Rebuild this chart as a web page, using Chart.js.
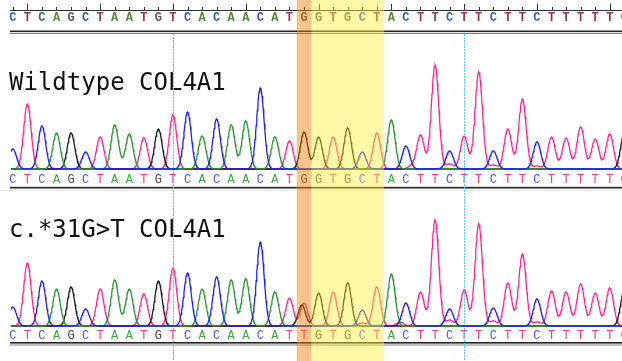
<!DOCTYPE html>
<html><head><meta charset="utf-8">
<script src="https://cdn.jsdelivr.net/npm/chart.js@4/dist/chart.umd.min.js"></script>
<style>html,body{margin:0;padding:0;background:#fff;overflow:hidden}#wrap{width:622px;height:361px;position:relative}canvas{display:block}</style>
</head><body><div id="wrap"><canvas id="c" width="622" height="361"></canvas></div>
<script>
// ---------- DATA ----------
const referenceSeq = "CTCAGCTAATGTCACAACATGGTGCTACTTCTTCTTCTTTTTG".split("");
const wildtypeSeq  = "CTCAGCTAATGTCACAACATGGTGCTACTTCTTCTTCTTTTTG".split("");
const mutantSeq    = "CTCAGCTAATGTCACAACATTGTGCTACTTCTTCTTCTTTTTG".split("");
// primary peak heights (signal units) per called base
const wildtypePeaks = [20,65,43,36,36,17,32,44,35,31,40,54,57,33,50,44,48,81,32,28,37,32,32,41,17,36,49,23,34,104,18,33,97,18,40,70,27,32,31,42,30,35,36];
const mutantPeaks   = [19,63,45,37,39,17,37,46,37,32,45,58,53,37,49,46,47,84,34,28,23,33,34,43,16,39,52,23,34,106,17,36,102,18,43,72,27,35,34,42,33,38,36];
// secondary (minor) peaks: [base index, channel, height, shift]
const wildtypeMinor = [[30,"T",5,0],[33,"T",4,0],[36,"T",3,0],[27,"T",3,0.4]];
const mutantMinor   = [[20,"G",21,-0.15],[30,"T",6,0],[33,"T",5,0],[36,"T",4,0],[26,"T",4,0.6],[24,"T",3,0]];
const trackTitles = ["Wildtype COL4A1", "c.*31G>T COL4A1"];
const mutationBase = 20;
const motifBases = [21, 25];
const markerBases = [11, 31];
const channels = ["C","A","G","T"];

// ---------- STYLE / LAYOUT ----------
const X0 = 12.8, DX = 14.56;           // pixel of base 0, pixels per base
const SIGMA = 0.255;                    // peak width in bases
const tracks = [
  {seq: wildtypeSeq, peaks: wildtypePeaks, minor: wildtypeMinor, base: 169, labelY: 180, title: trackTitles[0], titleY: 90},
  {seq: mutantSeq,   peaks: mutantPeaks,   minor: mutantMinor,   base: 326, labelY: 336, title: trackTitles[1], titleY: 237}
];
const traceColor = {A:"rgb(40,150,50)", C:"rgb(35,35,230)", G:"rgb(25,25,25)", T:"rgb(250,40,140)"};
const labelColor = {A:"rgb(60,170,60)", C:"rgb(80,80,255)", G:"rgb(70,70,70)", T:"rgb(245,50,140)"};
const topColor   = {A:"rgb(90,130,60)", C:"rgb(60,90,170)", G:"rgb(90,90,90)", T:"rgb(150,50,90)"};

function buildTrace(tr, ch) {
  const pts = [];
  const start = (11 - X0) / DX, end = (623 - X0) / DX;
  for (let x = start; x <= end; x += 0.04) {
    let s = 0;
    tr.seq.forEach((b, i) => {
      if (b === ch) s += tr.peaks[i] * Math.exp(-((x - i) ** 2) / (2 * SIGMA * SIGMA));
    });
    tr.minor.forEach(([i, c, h, sh]) => {
      if (c === ch) s += h * Math.exp(-((x - i - sh) ** 2) / (2 * SIGMA * SIGMA));
    });
    pts.push({x: x, y: tr.base - s});
  }
  return pts;
}
const datasets = [];
tracks.forEach(tr => channels.forEach(ch => datasets.push({
  data: buildTrace(tr, ch), borderColor: traceColor[ch], borderWidth: 1.3,
  pointRadius: 0, fill: false, tension: 0
})));

const decor = {
  id: "decor",
  beforeDatasetsDraw(chart) {
    const ctx = chart.ctx, xs = chart.scales.x, ys = chart.scales.y;
    const px = i => xs.getPixelForValue(i);
    const py = v => ys.getPixelForValue(v);
    ctx.save();
    ctx.setLineDash([]); ctx.globalAlpha = 1;
    ctx.font = "bold 12px 'Liberation Mono'"; ctx.textAlign = "center"; ctx.textBaseline = "middle";
    referenceSeq.forEach((b, i) => { ctx.fillStyle = topColor[b]; ctx.fillText(b, px(i), py(17.5)); });
    // double line under ruler
    ctx.fillStyle = "#222"; ctx.fillRect(10, py(30.5), 612, 1.6);
    ctx.fillStyle = "#777"; ctx.fillRect(10, py(33), 612, 1);
    // track labels and rules
    tracks.forEach((tr, k) => {
      ctx.font = "12px 'Liberation Mono'";
      tr.seq.forEach((b, i) => { ctx.fillStyle = labelColor[b]; ctx.fillText(b, px(i), py(tr.labelY)); });
      ctx.font = "24px 'DejaVu Sans Mono'"; ctx.textAlign = "left"; ctx.textBaseline = "alphabetic";
      ctx.fillStyle = "#111"; ctx.fillText(tr.title, 9, py(tr.titleY));
      ctx.textAlign = "center"; ctx.textBaseline = "middle";
    });
    ctx.fillStyle = "#333"; ctx.fillRect(10, py(186.8), 612, 1.8);
    ctx.fillStyle = "#e4e4e4"; ctx.fillRect(0, py(190), 622, 1);
    ctx.fillStyle = "#222"; ctx.fillRect(10, py(342), 612, 1.6);
    ctx.fillStyle = "#888"; ctx.fillRect(10, py(344.5), 612, 1);
    // cursor lines
    ctx.strokeStyle = "rgb(90,200,240)"; ctx.lineWidth = 1; ctx.setLineDash([2, 1]);
    markerBases.forEach(i => {
      const x = Math.round(px(i)) + 0.5;
      ctx.beginPath(); ctx.moveTo(x, py(34)); ctx.lineTo(x, py(361)); ctx.stroke();
    });
    ctx.restore();
  },
  afterDraw(chart) {
    const ctx = chart.ctx, xs = chart.scales.x;
    ctx.save();
    ctx.setLineDash([]); ctx.globalAlpha = 1; ctx.globalCompositeOperation = "source-over";
    // top ruler
    ctx.fillStyle = "#333";
    ctx.fillRect(10, 10, 612, 1);
    referenceSeq.forEach((b, i) => {
      const x = Math.round(xs.getPixelForValue(i));
      const top = i % 5 === 1 ? 4 : 7;
      ctx.fillRect(x, top, 1, 10 - top);
    });
    // highlight bands
    const a = xs.getPixelForValue(mutationBase - 0.5), b = xs.getPixelForValue(mutationBase + 0.5);
    ctx.fillStyle = "rgba(240,125,0,0.45)"; ctx.fillRect(a, 0, b - a, 361);
    const c = xs.getPixelForValue(motifBases[0] - 0.5), d = xs.getPixelForValue(motifBases[1] + 0.5);
    ctx.fillStyle = "rgba(255,240,60,0.45)"; ctx.fillRect(c, 0, d - c, 361);
    ctx.restore();
  }
};

new Chart(document.getElementById("c"), {
  type: "line",
  data: {datasets},
  options: {
    responsive: false, animation: false, parsing: false, normalized: true,
    layout: {padding: 0},
    plugins: {legend: {display: false}, tooltip: {enabled: false}},
    scales: {
      x: {type: "linear", display: false, min: -X0 / DX, max: (622 - X0) / DX},
      y: {type: "linear", display: false, min: 0, max: 361, reverse: true}
    }
  },
  plugins: [decor]
});
</script></body></html>
